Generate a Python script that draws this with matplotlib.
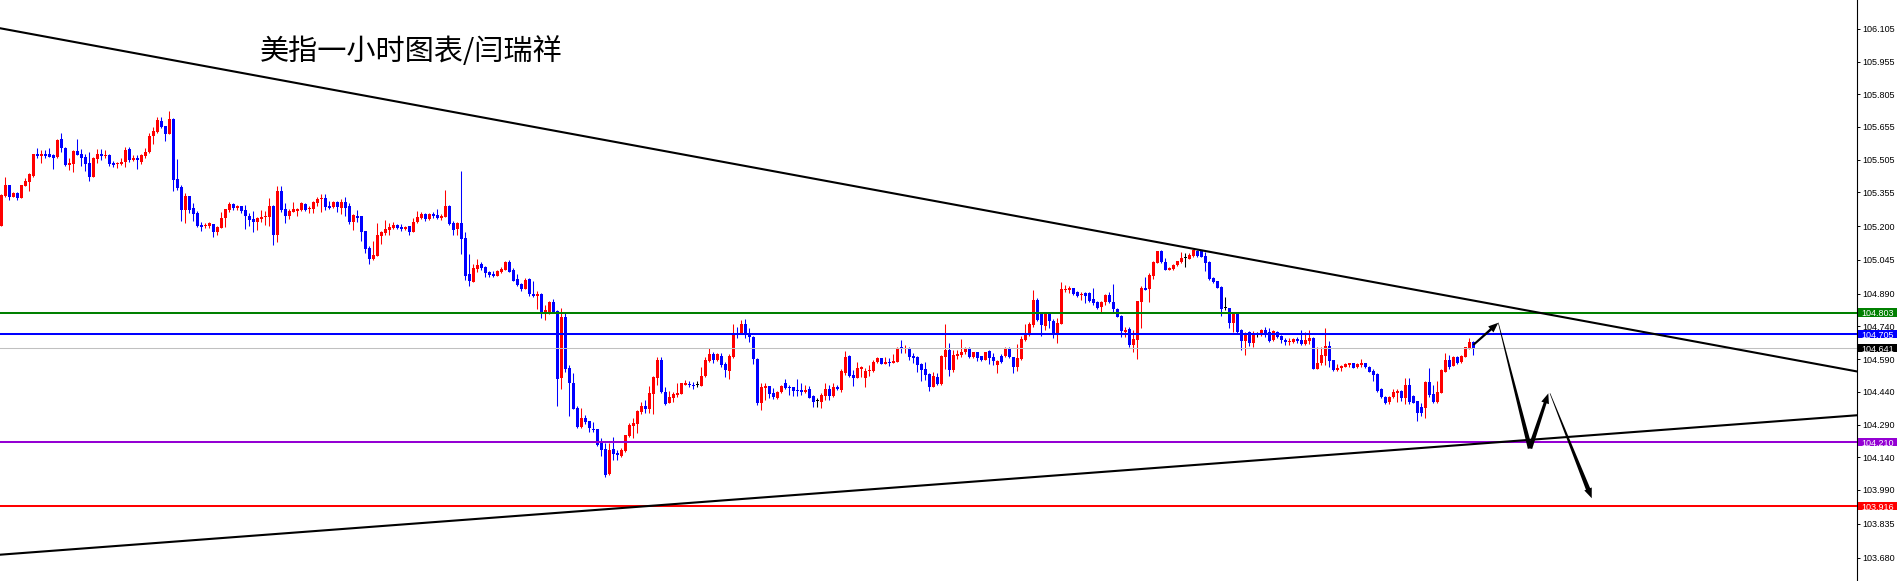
import numpy as np
import matplotlib
matplotlib.use("Agg")
import matplotlib.pyplot as plt
import matplotlib.transforms as mtransforms
from matplotlib.patches import Rectangle

plt.rcParams['font.family'] = ['Liberation Sans', 'DejaVu Sans']

# hourly candles (red = up, blue = down)
opens = [
    105.202, 105.340, 105.389, 105.335, 105.351, 105.331, 105.384, 105.404, 105.429, 105.530,
    105.523, 105.530, 105.530, 105.526, 105.517, 105.600, 105.560, 105.481, 105.487, 105.545,
    105.530, 105.517, 105.490, 105.427, 105.508, 105.530, 105.522, 105.526, 105.490, 105.484,
    105.485, 105.496, 105.554, 105.505, 105.514, 105.496, 105.523, 105.539, 105.612, 105.634,
    105.683, 105.660, 105.624, 105.692, 105.415, 105.378, 105.274, 105.338, 105.282, 105.260,
    105.205, 105.199, 105.202, 105.208, 105.172, 105.193, 105.236, 105.276, 105.302, 105.282,
    105.292, 105.274, 105.247, 105.233, 105.221, 105.233, 105.244, 105.244, 105.292, 105.159,
    105.361, 105.279, 105.248, 105.267, 105.271, 105.274, 105.303, 105.277, 105.280, 105.305,
    105.323, 105.328, 105.293, 105.290, 105.312, 105.285, 105.312, 105.293, 105.221, 105.247,
    105.247, 105.178, 105.101, 105.049, 105.063, 105.155, 105.167, 105.182, 105.193, 105.205,
    105.198, 105.185, 105.201, 105.175, 105.219, 105.239, 105.254, 105.233, 105.254, 105.251,
    105.239, 105.244, 105.293, 105.216, 105.185, 105.216, 105.144, 104.979, 104.945, 105.002,
    105.027, 105.011, 104.990, 104.981, 104.973, 104.988, 105.000, 105.037, 104.999, 104.956,
    104.935, 104.912, 104.956, 104.890, 104.880, 104.889, 104.796, 104.808, 104.854, 104.811,
    104.505, 104.785, 104.548, 104.482, 104.364, 104.280, 104.322, 104.306, 104.271, 104.271,
    104.204, 104.176, 104.063, 104.178, 104.161, 104.147, 104.169, 104.237, 104.283, 104.293,
    104.349, 104.375, 104.361, 104.430, 104.504, 104.586, 104.441, 104.390, 104.413, 104.426,
    104.430, 104.471, 104.478, 104.473, 104.471, 104.467, 104.513, 104.583, 104.614, 104.586,
    104.606, 104.568, 104.537, 104.598, 104.708, 104.708, 104.750, 104.705, 104.693, 104.591,
    104.390, 104.459, 104.467, 104.433, 104.413, 104.438, 104.479, 104.464, 104.461, 104.448,
    104.448, 104.439, 104.453, 104.421, 104.400, 104.395, 104.421, 104.453, 104.423, 104.464,
    104.449, 104.528, 104.604, 104.517, 104.505, 104.545, 104.504, 104.534, 104.537, 104.575,
    104.594, 104.568, 104.578, 104.574, 104.578, 104.644, 104.635, 104.640, 104.606, 104.601,
    104.566, 104.543, 104.522, 104.464, 104.510, 104.474, 104.601, 104.632, 104.540, 104.606,
    104.609, 104.624, 104.640, 104.601, 104.621, 104.604, 104.586, 104.627, 104.601, 104.563,
    104.606, 104.606, 104.637, 104.600, 104.556, 104.591, 104.678, 104.702, 104.747, 104.861,
    104.803, 104.744, 104.799, 104.767, 104.708, 104.753, 104.907, 104.907, 104.915, 104.897,
    104.883, 104.892, 104.892, 104.864, 104.854, 104.828, 104.851, 104.886, 104.851, 104.820,
    104.788, 104.716, 104.728, 104.655, 104.678, 104.854, 104.915, 104.910, 104.971, 105.033,
    105.086, 105.036, 104.999, 105.002, 105.020, 105.034, 105.053, 105.051, 105.063, 105.088,
    105.088, 105.063, 105.037, 104.961, 104.948, 104.922, 104.823, 104.823, 104.757, 104.800,
    104.724, 104.675, 104.716, 104.663, 104.701, 104.701, 104.724, 104.716, 104.678, 104.716,
    104.696, 104.678, 104.669, 104.670, 104.682, 104.678, 104.659, 104.675, 104.685, 104.545,
    104.571, 104.606, 104.650, 104.586, 104.540, 104.548, 104.556, 104.563, 104.571, 104.552,
    104.563, 104.571, 104.555, 104.537, 104.522, 104.453, 104.418, 104.392, 104.415, 104.433,
    104.444, 104.410, 104.471, 104.421, 104.398, 104.372, 104.367, 104.487, 104.430, 104.392,
    104.436, 104.533, 104.586, 104.560, 104.601, 104.578, 104.601, 104.640, 104.670,
]
highs = [
    105.348, 105.426, 105.389, 105.358, 105.355, 105.390, 105.419, 105.444, 105.531, 105.557,
    105.549, 105.549, 105.559, 105.530, 105.601, 105.627, 105.565, 105.511, 105.548, 105.600,
    105.552, 105.533, 105.539, 105.517, 105.552, 105.554, 105.549, 105.530, 105.499, 105.496,
    105.511, 105.562, 105.565, 105.526, 105.526, 105.533, 105.560, 105.627, 105.657, 105.701,
    105.701, 105.660, 105.728, 105.694, 105.508, 105.389, 105.351, 105.340, 105.305, 105.270,
    105.221, 105.213, 105.218, 105.211, 105.202, 105.267, 105.278, 105.311, 105.306, 105.297,
    105.294, 105.297, 105.259, 105.270, 105.244, 105.274, 105.270, 105.331, 105.297, 105.386,
    105.386, 105.305, 105.279, 105.311, 105.285, 105.311, 105.306, 105.293, 105.314, 105.335,
    105.348, 105.349, 105.316, 105.316, 105.316, 105.323, 105.335, 105.308, 105.254, 105.274,
    105.247, 105.178, 105.109, 105.132, 105.216, 105.178, 105.228, 105.213, 105.221, 105.208,
    105.208, 105.202, 105.201, 105.236, 105.271, 105.267, 105.262, 105.262, 105.267, 105.280,
    105.254, 105.366, 105.299, 105.222, 105.221, 105.453, 105.175, 105.072, 105.025, 105.049,
    105.034, 105.017, 104.994, 104.996, 104.999, 105.011, 105.040, 105.045, 105.007, 104.981,
    104.938, 104.964, 104.961, 104.949, 104.903, 104.892, 104.838, 104.858, 104.864, 104.815,
    104.823, 104.800, 104.563, 104.525, 104.375, 104.367, 104.334, 104.306, 104.302, 104.271,
    104.227, 104.204, 104.204, 104.234, 104.173, 104.181, 104.243, 104.296, 104.319, 104.357,
    104.395, 104.403, 104.467, 104.513, 104.598, 104.598, 104.461, 104.445, 104.441, 104.479,
    104.482, 104.494, 104.490, 104.487, 104.490, 104.552, 104.598, 104.640, 104.621, 104.620,
    104.617, 104.578, 104.614, 104.751, 104.739, 104.770, 104.774, 104.731, 104.696, 104.594,
    104.479, 104.479, 104.468, 104.459, 104.444, 104.471, 104.499, 104.471, 104.464, 104.499,
    104.479, 104.471, 104.468, 104.426, 104.410, 104.433, 104.479, 104.471, 104.479, 104.471,
    104.543, 104.629, 104.609, 104.540, 104.575, 104.559, 104.548, 104.563, 104.586, 104.601,
    104.595, 104.598, 104.594, 104.612, 104.644, 104.678, 104.655, 104.647, 104.617, 104.604,
    104.571, 104.575, 104.528, 104.533, 104.528, 104.609, 104.751, 104.663, 104.632, 104.632,
    104.684, 104.647, 104.644, 104.625, 104.624, 104.605, 104.624, 104.632, 104.617, 104.586,
    104.612, 104.647, 104.644, 104.601, 104.658, 104.696, 104.750, 104.762, 104.907, 104.869,
    104.804, 104.800, 104.805, 104.773, 104.777, 104.945, 104.930, 104.926, 104.918, 104.903,
    104.897, 104.900, 104.900, 104.915, 104.858, 104.858, 104.889, 104.900, 104.935, 104.826,
    104.793, 104.739, 104.739, 104.724, 104.858, 104.926, 104.968, 104.984, 105.042, 105.088,
    105.091, 105.053, 105.014, 105.027, 105.042, 105.083, 105.078, 105.078, 105.095, 105.091,
    105.091, 105.083, 105.038, 104.968, 104.949, 104.927, 104.874, 104.826, 104.801, 104.803,
    104.728, 104.716, 104.717, 104.719, 104.713, 104.728, 104.739, 104.731, 104.724, 104.721,
    104.701, 104.688, 104.685, 104.685, 104.693, 104.724, 104.716, 104.724, 104.693, 104.644,
    104.647, 104.734, 104.675, 104.587, 104.568, 104.563, 104.574, 104.574, 104.574, 104.571,
    104.589, 104.574, 104.559, 104.543, 104.525, 104.459, 104.421, 104.421, 104.451, 104.451,
    104.448, 104.502, 104.502, 104.425, 104.400, 104.390, 104.490, 104.551, 104.471, 104.491,
    104.543, 104.620, 104.609, 104.604, 104.604, 104.609, 104.647, 104.685, 104.673,
]
lows = [
    105.200, 105.335, 105.322, 105.333, 105.322, 105.330, 105.383, 105.361, 105.426, 105.511,
    105.490, 105.514, 105.516, 105.462, 105.511, 105.539, 105.474, 105.458, 105.450, 105.526,
    105.477, 105.453, 105.409, 105.426, 105.490, 105.502, 105.511, 105.477, 105.473, 105.468,
    105.481, 105.471, 105.496, 105.499, 105.462, 105.484, 105.514, 105.536, 105.575, 105.629,
    105.649, 105.592, 105.622, 105.361, 105.366, 105.224, 105.215, 105.259, 105.225, 105.196,
    105.179, 105.190, 105.193, 105.150, 105.161, 105.190, 105.198, 105.267, 105.276, 105.274,
    105.259, 105.187, 105.202, 105.175, 105.182, 105.221, 105.205, 105.202, 105.114, 105.129,
    105.263, 105.215, 105.233, 105.263, 105.248, 105.271, 105.270, 105.262, 105.259, 105.294,
    105.267, 105.274, 105.279, 105.285, 105.267, 105.256, 105.248, 105.210, 105.182, 105.221,
    105.132, 105.079, 105.027, 105.045, 105.062, 105.118, 105.161, 105.161, 105.189, 105.187,
    105.179, 105.182, 105.160, 105.174, 105.213, 105.235, 105.225, 105.228, 105.239, 105.231,
    105.228, 105.243, 105.205, 105.160, 105.160, 105.072, 104.953, 104.926, 104.944, 104.990,
    105.000, 104.968, 104.965, 104.965, 104.971, 104.985, 104.999, 104.988, 104.949, 104.926,
    104.903, 104.911, 104.881, 104.875, 104.820, 104.780, 104.770, 104.797, 104.800, 104.375,
    104.453, 104.533, 104.331, 104.360, 104.276, 104.276, 104.293, 104.257, 104.257, 104.192,
    104.146, 104.048, 104.059, 104.127, 104.127, 104.143, 104.166, 104.234, 104.227, 104.250,
    104.338, 104.341, 104.341, 104.338, 104.471, 104.433, 104.380, 104.387, 104.395, 104.418,
    104.430, 104.470, 104.464, 104.453, 104.461, 104.466, 104.510, 104.578, 104.574, 104.583,
    104.556, 104.507, 104.499, 104.595, 104.686, 104.705, 104.689, 104.670, 104.568, 104.380,
    104.357, 104.403, 104.410, 104.407, 104.407, 104.433, 104.453, 104.426, 104.423, 104.423,
    104.426, 104.433, 104.410, 104.372, 104.372, 104.364, 104.403, 104.403, 104.418, 104.449,
    104.441, 104.517, 104.507, 104.467, 104.502, 104.510, 104.464, 104.513, 104.533, 104.571,
    104.566, 104.567, 104.560, 104.571, 104.578, 104.620, 104.617, 104.586, 104.571, 104.533,
    104.491, 104.494, 104.444, 104.461, 104.471, 104.471, 104.543, 104.514, 104.533, 104.589,
    104.601, 104.612, 104.594, 104.597, 104.583, 104.582, 104.585, 104.566, 104.563, 104.528,
    104.574, 104.601, 104.597, 104.528, 104.537, 104.586, 104.673, 104.696, 104.739, 104.767,
    104.698, 104.724, 104.731, 104.689, 104.666, 104.751, 104.900, 104.895, 104.886, 104.877,
    104.861, 104.846, 104.851, 104.838, 104.822, 104.808, 104.838, 104.846, 104.800, 104.782,
    104.690, 104.693, 104.644, 104.624, 104.591, 104.731, 104.906, 104.854, 104.958, 105.030,
    105.030, 104.998, 104.998, 105.001, 105.019, 105.033, 105.014, 105.049, 105.060, 105.057,
    105.057, 104.996, 104.953, 104.938, 104.915, 104.789, 104.816, 104.731, 104.716, 104.708,
    104.632, 104.609, 104.652, 104.647, 104.690, 104.696, 104.693, 104.667, 104.675, 104.685,
    104.663, 104.655, 104.655, 104.663, 104.663, 104.655, 104.655, 104.659, 104.544, 104.544,
    104.563, 104.563, 104.552, 104.537, 104.537, 104.537, 104.552, 104.552, 104.550, 104.548,
    104.552, 104.548, 104.532, 104.491, 104.441, 104.410, 104.384, 104.384, 104.410, 104.395,
    104.400, 104.384, 104.384, 104.387, 104.306, 104.329, 104.322, 104.418, 104.390, 104.390,
    104.433, 104.530, 104.545, 104.559, 104.568, 104.574, 104.598, 104.637, 104.609,
]
closes = [
    105.343, 105.389, 105.335, 105.354, 105.331, 105.389, 105.407, 105.439, 105.530, 105.520,
    105.530, 105.523, 105.517, 105.514, 105.595, 105.557, 105.481, 105.490, 105.545, 105.526,
    105.514, 105.487, 105.427, 105.511, 105.530, 105.520, 105.526, 105.487, 105.482, 105.490,
    105.493, 105.549, 105.502, 105.514, 105.502, 105.526, 105.542, 105.614, 105.637, 105.686,
    105.655, 105.624, 105.692, 105.412, 105.377, 105.274, 105.338, 105.274, 105.257, 105.202,
    105.198, 105.207, 105.213, 105.172, 105.196, 105.236, 105.277, 105.302, 105.285, 105.292,
    105.271, 105.248, 105.230, 105.219, 105.239, 105.244, 105.248, 105.292, 105.159, 105.361,
    105.276, 105.248, 105.271, 105.277, 105.280, 105.305, 105.274, 105.282, 105.311, 105.325,
    105.331, 105.290, 105.285, 105.312, 105.290, 105.312, 105.285, 105.218, 105.251, 105.236,
    105.175, 105.095, 105.049, 105.068, 105.160, 105.173, 105.187, 105.198, 105.205, 105.190,
    105.187, 105.198, 105.175, 105.219, 105.244, 105.254, 105.231, 105.254, 105.247, 105.239,
    105.248, 105.293, 105.210, 105.182, 105.216, 105.141, 104.971, 104.949, 105.010, 105.022,
    105.007, 104.987, 104.976, 104.971, 104.994, 105.005, 105.037, 104.991, 104.950, 104.930,
    104.912, 104.953, 104.889, 104.880, 104.887, 104.796, 104.814, 104.854, 104.808, 104.499,
    104.785, 104.545, 104.479, 104.363, 104.280, 104.322, 104.300, 104.276, 104.265, 104.196,
    104.173, 104.059, 104.173, 104.155, 104.150, 104.173, 104.242, 104.288, 104.299, 104.352,
    104.375, 104.361, 104.433, 104.507, 104.586, 104.438, 104.384, 104.418, 104.430, 104.436,
    104.479, 104.479, 104.473, 104.468, 104.471, 104.513, 104.586, 104.614, 104.586, 104.614,
    104.563, 104.540, 104.604, 104.705, 104.704, 104.750, 104.701, 104.690, 104.591, 104.387,
    104.464, 104.467, 104.430, 104.418, 104.439, 104.468, 104.456, 104.456, 104.445, 104.445,
    104.441, 104.448, 104.413, 104.395, 104.400, 104.426, 104.453, 104.423, 104.464, 104.453,
    104.536, 104.598, 104.514, 104.505, 104.549, 104.552, 104.537, 104.540, 104.575, 104.594,
    104.568, 104.575, 104.574, 104.582, 104.640, 104.635, 104.640, 104.601, 104.597, 104.563,
    104.540, 104.517, 104.464, 104.514, 104.476, 104.604, 104.632, 104.540, 104.609, 104.614,
    104.624, 104.635, 104.598, 104.624, 104.597, 104.586, 104.621, 104.597, 104.582, 104.582,
    104.575, 104.637, 104.598, 104.556, 104.594, 104.681, 104.704, 104.750, 104.861, 104.770,
    104.747, 104.799, 104.767, 104.708, 104.757, 104.910, 104.912, 104.915, 104.889, 104.881,
    104.887, 104.881, 104.858, 104.849, 104.826, 104.854, 104.883, 104.851, 104.820, 104.785,
    104.721, 104.724, 104.655, 104.681, 104.857, 104.915, 104.907, 104.976, 105.034, 105.086,
    105.034, 104.999, 105.008, 105.022, 105.039, 105.053, 105.053, 105.066, 105.091, 105.063,
    105.060, 105.033, 104.958, 104.942, 104.918, 104.820, 104.823, 104.757, 104.800, 104.716,
    104.675, 104.701, 104.663, 104.704, 104.701, 104.724, 104.708, 104.673, 104.721, 104.693,
    104.678, 104.667, 104.675, 104.681, 104.673, 104.659, 104.678, 104.685, 104.545, 104.574,
    104.609, 104.650, 104.583, 104.540, 104.551, 104.559, 104.568, 104.571, 104.551, 104.568,
    104.571, 104.552, 104.533, 104.517, 104.444, 104.415, 104.387, 104.418, 104.441, 104.445,
    104.410, 104.471, 104.392, 104.390, 104.344, 104.344, 104.487, 104.426, 104.392, 104.441,
    104.540, 104.586, 104.555, 104.601, 104.574, 104.604, 104.644, 104.667, 104.640,
]

price_ticks = [106.105, 105.955, 105.805, 105.655, 105.505, 105.355, 105.200, 105.045,
               104.890, 104.740, 104.590, 104.440, 104.290, 104.140, 103.990, 103.835, 103.680]

# horizontal levels: price, line colour, label box colour
levels = [104.803, 104.705, 104.641, 104.210, 103.916]
level_colors = ['#008000', '#0000ff', '#c0c0c0', '#9400d3', '#ff0000']
label_colors = ['#008000', '#0000ff', '#000000', '#9400d3', '#ff0000']

# trend lines (bar index, price) at the chart edges
upper_trend = ([-0.33, 463.8], [106.108, 104.534])
lower_trend = ([-0.33, 463.8], [103.693, 104.3325])

# drawn forecast path: start, end, start width px, end width px, arrow head
forecast = [
    ((367.99, 104.655), (374.24, 104.757), 2.0, 2.5, True),
    ((374.24, 104.757), (382.17, 104.181), 0.6, 4.5, False),
    ((382.17, 104.181), (386.74, 104.433), 4.5, 3.0, True),
    ((387.17, 104.433), (397.60, 103.952), 0.6, 4.5, True),
]

title = "美指一小时图表/闫瑞祥"

W, H = 1897, 581
fig = plt.figure(figsize=(W / 100, H / 100), dpi=100)
ax = fig.add_axes([0, 0, 1856.7 / W, 1])

o = np.array(opens)
h = np.array(highs)
l = np.array(lows)
c = np.array(closes)
x = np.arange(len(o))
colors = np.where(c > o, '#ff0000', np.where(c < o, '#0000ff', '#000000'))

ax.vlines(x, l, h, colors=colors, lw=0.75, zorder=2)
ax.bar(x, np.maximum(np.abs(c - o), 0.0046), bottom=np.minimum(o, c),
       width=0.75, color=colors, lw=0, zorder=3)

for p, lc in zip(levels, level_colors):
    ax.axhline(p, color=lc, lw=0.75 if lc == '#c0c0c0' else 1.45, zorder=4)

ax.plot(*upper_trend, color='black', lw=1.5, zorder=4)
ax.plot(*lower_trend, color='black', lw=1.5, zorder=4)

ax.set_xlim(-0.333, 463.84)
ax.set_ylim(103.5724, 106.2375)

for s in ['left', 'top', 'bottom']:
    ax.spines[s].set_visible(False)
ax.spines['right'].set_linewidth(0.8)
ax.set_xticks([])
ax.yaxis.tick_right()
ax.set_yticks(price_ticks)
ax.set_yticklabels([f"{v:.3f}" for v in price_ticks])
ax.tick_params(axis='y', length=2.2, width=0.7, pad=1.5, labelsize=6.5)


def tapered(p0, p1, w0, w1, head):
    tr = ax.transData
    a = tr.transform(p0)
    b = tr.transform(p1)
    d = b - a
    u = d / np.hypot(*d)
    nrm = np.array([-u[1], u[0]])
    hl, hw = (10.0, 8.0) if head else (0.0, 0.0)
    s = b - u * hl
    pts = [a + nrm * w0 / 2, s + nrm * w1 / 2]
    if head:
        pts += [s + nrm * hw / 2, b, s - nrm * hw / 2]
    pts += [s - nrm * w1 / 2, a - nrm * w0 / 2]
    pts = tr.inverted().transform(np.array(pts))
    ax.fill(pts[:, 0], pts[:, 1], color='black', lw=0, zorder=5)


for p0, p1, w0, w1, head in forecast:
    tapered(p0, p1, w0, w1, head)

# price labels on the scale
trans = mtransforms.blended_transform_factory(ax.transAxes, ax.transData)
half = 4.4 / 218
for p, bc in zip(levels, label_colors):
    ax.add_patch(Rectangle((1.0008, p - half), 0.0209, 2 * half, transform=trans,
                           facecolor=bc, edgecolor='none', clip_on=False, zorder=6))
    ax.text(1.0027, p, f"{p:.3f}", transform=trans, color='white', fontsize=6.5,
            va='center_baseline', ha='left', clip_on=False, zorder=7)

ax.text(260 / 1856.7, 1 - 52 / 581, title, transform=ax.transAxes, fontsize=21,
        family=['Noto Sans CJK SC', 'DejaVu Sans'], va='center', ha='left')

fig.savefig('out.png', dpi=100, facecolor='white')
